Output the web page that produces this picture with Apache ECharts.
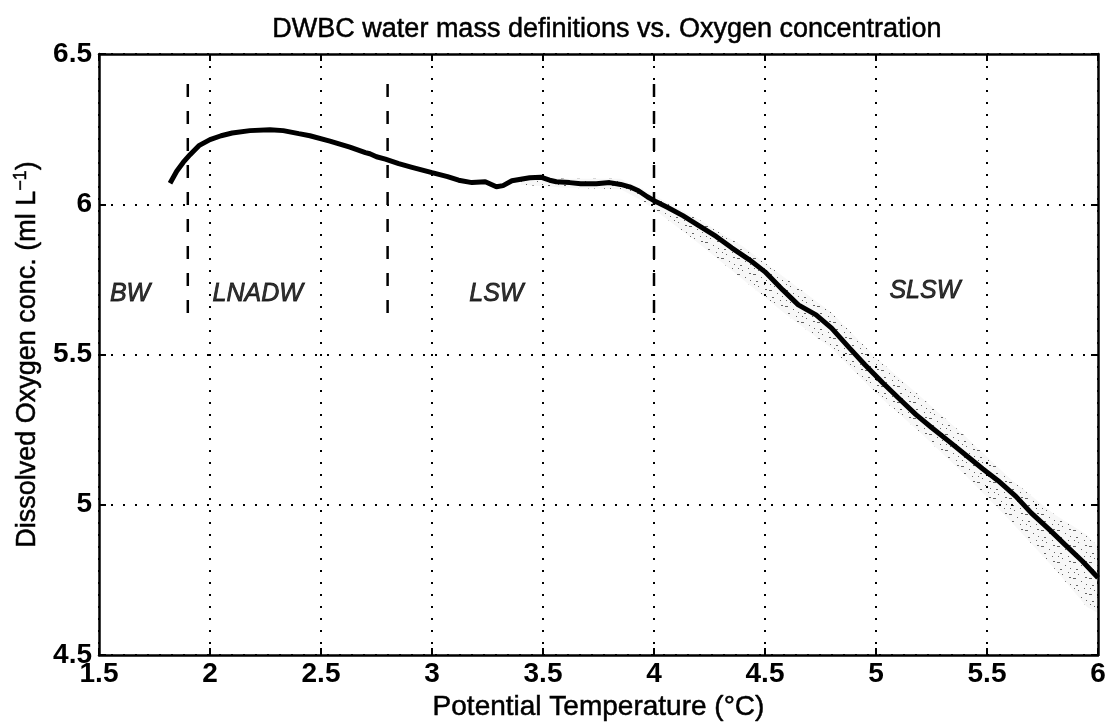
<!DOCTYPE html>
<html>
<head>
<meta charset="utf-8">
<script src="https://cdn.jsdelivr.net/npm/echarts@6/dist/echarts.min.js"></script>
<style>html,body{margin:0;padding:0;background:#fff}#c{width:1109px;height:728px}</style>
</head>
<body>
<div id="c"></div>
<script>
// Mean oxygen profile: potential temperature (°C) and dissolved oxygen (ml/L)
const temps = [1.82,1.85,1.88,1.91,1.95,2.0,2.05,2.1,2.18,2.27,2.33,2.4,2.45,2.54,2.63,2.7,2.72,2.75,2.79,2.85,2.91,3.0,3.07,3.12,3.18,3.24,3.29,3.32,3.36,3.44,3.49,3.53,3.56,3.62,3.67,3.74,3.8,3.85,3.89,3.93,3.97,4.01,4.06,4.13,4.2,4.28,4.35,4.43,4.5,4.58,4.65,4.73,4.8,4.88,4.95,5.03,5.1,5.18,5.25,5.33,5.4,5.48,5.55,5.63,5.7,5.78,5.85,5.93,6.0];
const oxygen = [6.07,6.11,6.14,6.165,6.195,6.215,6.228,6.237,6.245,6.248,6.245,6.235,6.228,6.21,6.19,6.172,6.168,6.158,6.15,6.135,6.123,6.105,6.092,6.08,6.072,6.075,6.058,6.062,6.078,6.088,6.09,6.08,6.075,6.072,6.068,6.068,6.072,6.066,6.058,6.045,6.025,6.008,5.99,5.962,5.93,5.893,5.855,5.815,5.775,5.715,5.665,5.632,5.588,5.522,5.466,5.406,5.356,5.30,5.257,5.21,5.168,5.12,5.08,5.028,4.972,4.918,4.868,4.812,4.757];

// Scatter envelope of individual profiles (lower / upper bound)
const bandTemps = [3.4,3.6,3.85,3.95,4.05,4.2,4.4,4.6,4.8,5.0,5.2,5.4,5.6,5.8,5.95,6.0];
const bandLow   = [6.065,6.055,6.05,6.01,5.955,5.87,5.75,5.63,5.52,5.37,5.24,5.10,4.95,4.79,4.66,4.64];
const bandHigh  = [6.095,6.085,6.085,6.05,6.01,5.95,5.86,5.75,5.64,5.49,5.36,5.23,5.09,4.97,4.90,4.86];

// Water mass boundaries
const boundaries = [1.9, 2.8, 4.0];
const boundaryRange = [6.4, 5.6];

// Water mass labels
const massNames = ['BW', 'LNADW', 'LSW', 'SLSW'];
const massX = [1.64, 2.215, 3.29, 5.22];
const massY = [5.70, 5.70, 5.70, 5.71];

// speckle texture for the scatter band
const pat = document.createElement('canvas');
pat.width = 16; pat.height = 16;
const pc = pat.getContext('2d');
pc.fillStyle = 'rgba(0,0,0,0.03)';
pc.fillRect(0,0,16,16);
pc.fillStyle = 'rgba(0,0,0,0.6)';
[[1,2,3,1],[9,5,1,1],[4,9,2,1],[12,12,1,1],[13,1,2,1],[6,14,1,1],[14,8,1,1],[2,12,1,1]].forEach(r=>pc.fillRect(r[0],r[1],r[2],r[3]));

const FONT = '"Liberation Sans", Arial, Helvetica, sans-serif';
const THICK = {textBorderColor:'#000', textBorderWidth:0.5};

const lineData = temps.map((t,i)=>[t, oxygen[i]]);
const boundarySeries = boundaries.map((b)=>({
  type:'line', data:[[b,boundaryRange[0]],[b,boundaryRange[1]]], symbol:'none', silent:true,
  lineStyle:{color:'#000', width:2.5, type:[13,14]}, z:4
}));

const chart = echarts.init(document.getElementById('c'));
chart.setOption({
  backgroundColor:'#fff',
  animation:false,
  title:{text:'DWBC water mass definitions vs. Oxygen concentration', left:602, textAlign:'center', top:11,
    textStyle:Object.assign({fontFamily:FONT, fontSize:27, fontWeight:'normal', color:'#000'}, THICK)},
  grid:{left:99, right:11, top:54, bottom:73},
  xAxis:[{
    type:'value', min:1.5, max:6, interval:0.5,
    name:'Potential Temperature (°C)', nameLocation:'middle', nameGap:33,
    nameTextStyle:Object.assign({fontFamily:FONT, fontSize:28, color:'#000'}, THICK),
    axisLine:{show:true, lineStyle:{color:'#000', width:2.5}},
    axisTick:{show:true, inside:true, length:7, lineStyle:{color:'#000', width:2}},
    axisLabel:{fontFamily:FONT, fontSize:28, fontWeight:'bold', color:'#000', margin:5,
      formatter:v=>String(v)},
    splitLine:{show:true, lineStyle:{color:'#000', width:2, type:[2,10]}}
  },{
    type:'value', position:'top', min:1.5, max:6, interval:0.5,
    axisLine:{show:true, lineStyle:{color:'#000', width:2.5}},
    axisTick:{show:true, inside:true, length:7, lineStyle:{color:'#000', width:2}},
    axisLabel:{show:false}, splitLine:{show:false}
  }],
  yAxis:[{
    type:'value', min:4.5, max:6.5, interval:0.5,
    name:'{n|Dissolved Oxygen conc. (ml L}{s|−1}{n|)}', nameLocation:'middle', nameGap:55,
    nameTextStyle:{rich:{n:Object.assign({fontFamily:FONT, fontSize:27, color:'#000'}, THICK), s:Object.assign({fontFamily:FONT, fontSize:18, color:'#000', verticalAlign:'top', padding:[0,0,14,0]}, THICK)}},
    axisLine:{show:true, lineStyle:{color:'#000', width:2.5}},
    axisTick:{show:true, inside:true, length:7, lineStyle:{color:'#000', width:2}},
    axisLabel:{fontFamily:FONT, fontSize:28, fontWeight:'bold', color:'#000', margin:7,
      formatter:v=>String(v)},
    splitLine:{show:true, lineStyle:{color:'#000', width:2, type:[2,10]}}
  },{
    type:'value', position:'right', min:4.5, max:6.5, interval:0.5,
    axisLine:{show:true, lineStyle:{color:'#000', width:2.5}},
    axisTick:{show:true, inside:true, length:7, lineStyle:{color:'#000', width:2}},
    axisLabel:{show:false}, splitLine:{show:false}
  }],
  series:[
    {type:'custom', silent:true, z:2, data:[0],
      renderItem:(params, api)=>{
        const upper = bandTemps.map((t,i)=>api.coord([t, bandHigh[i]]));
        const lower = bandTemps.map((t,i)=>api.coord([t, bandLow[i]])).reverse();
        return {type:'polygon', shape:{points:upper.concat(lower)},
          style:{fill:{image:pat, repeat:'repeat'}, stroke:null}};
      }},
    {type:'line', data:lineData, symbol:'none', silent:true, smooth:false,
      lineStyle:{color:'#000', width:5}, z:5},
    ...boundarySeries,
    {type:'scatter', data:massX.map((x,i)=>({name:massNames[i], value:[x, massY[i]]})), symbolSize:0, silent:true,
      label:Object.assign({show:true, position:'inside', formatter:p=>p.name,
        fontFamily:FONT, fontSize:25, fontStyle:'italic', color:'#000'}, {textBorderColor:'#000', textBorderWidth:0.8}), z:6}
  ]
});
</script>
</body>
</html>
